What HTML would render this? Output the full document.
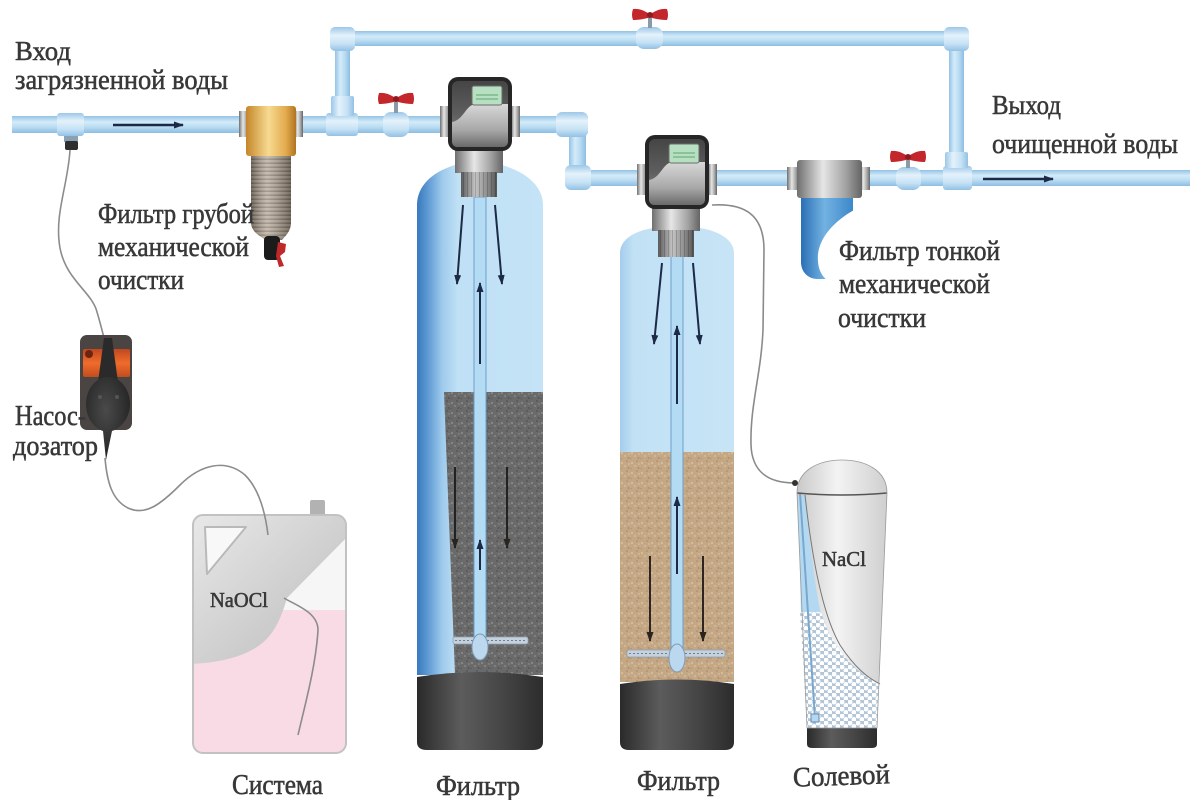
<!DOCTYPE html>
<html><head><meta charset="utf-8">
<style>
html,body{margin:0;padding:0;background:#fff}
svg{display:block}
text{font-family:"Liberation Serif","DejaVu Serif",serif;fill:#383838;stroke:#383838;stroke-width:0.55}
</style></head>
<body>
<svg width="1200" height="800" viewBox="0 0 1200 800" xmlns="http://www.w3.org/2000/svg">
<defs>
 <linearGradient id="pH" x1="0" y1="0" x2="0" y2="1">
  <stop offset="0" stop-color="#93c3e6"/><stop offset="0.35" stop-color="#d4ebf9"/><stop offset="0.65" stop-color="#b9dcf2"/><stop offset="1" stop-color="#8dbde2"/>
 </linearGradient>
 <linearGradient id="pV" x1="0" y1="0" x2="1" y2="0">
  <stop offset="0" stop-color="#93c3e6"/><stop offset="0.35" stop-color="#d4ebf9"/><stop offset="0.65" stop-color="#b9dcf2"/><stop offset="1" stop-color="#8dbde2"/>
 </linearGradient>
 <linearGradient id="fH" x1="0" y1="0" x2="0" y2="1">
  <stop offset="0" stop-color="#9cc7e8"/><stop offset="0.35" stop-color="#e4f2fb"/><stop offset="0.7" stop-color="#c6e2f5"/><stop offset="1" stop-color="#93c1e4"/>
 </linearGradient>
 <linearGradient id="fV" x1="0" y1="0" x2="1" y2="0">
  <stop offset="0" stop-color="#9cc7e8"/><stop offset="0.35" stop-color="#e4f2fb"/><stop offset="0.7" stop-color="#c6e2f5"/><stop offset="1" stop-color="#93c1e4"/>
 </linearGradient>
 <linearGradient id="silver" x1="0" y1="0" x2="1" y2="0">
  <stop offset="0" stop-color="#6f6f6f"/><stop offset="0.4" stop-color="#e6e6e6"/><stop offset="0.75" stop-color="#a2a2a2"/><stop offset="1" stop-color="#646464"/>
 </linearGradient>
 <linearGradient id="silverD" x1="0" y1="0" x2="1" y2="0">
  <stop offset="0" stop-color="#5a5a5a"/><stop offset="0.4" stop-color="#c4c4c4"/><stop offset="0.75" stop-color="#8a8a8a"/><stop offset="1" stop-color="#555"/>
 </linearGradient>
 <linearGradient id="gold" x1="0" y1="0" x2="1" y2="0">
  <stop offset="0" stop-color="#c48628"/><stop offset="0.45" stop-color="#f7da92"/><stop offset="0.8" stop-color="#e2aa4c"/><stop offset="1" stop-color="#b07420"/>
 </linearGradient>
 <linearGradient id="headG" x1="0" y1="0" x2="0" y2="1">
  <stop offset="0" stop-color="#454545"/><stop offset="0.5" stop-color="#5e5e5e"/><stop offset="1" stop-color="#8a8a8a"/>
 </linearGradient>
 <linearGradient id="swoosh" x1="0" y1="0" x2="0" y2="1">
  <stop offset="0" stop-color="#d8d8d8"/><stop offset="0.6" stop-color="#a8a8a8"/><stop offset="1" stop-color="#6a6a6a"/>
 </linearGradient>
 <linearGradient id="tank1" x1="417" y1="0" x2="543" y2="0" gradientUnits="userSpaceOnUse">
  <stop offset="0" stop-color="#3878bd"/><stop offset="0.08" stop-color="#5b98d2"/><stop offset="0.2" stop-color="#9ecaec"/><stop offset="0.32" stop-color="#bfe0f5"/><stop offset="1" stop-color="#c5e3f6"/>
 </linearGradient>
 <linearGradient id="tank2" x1="620" y1="0" x2="734" y2="0" gradientUnits="userSpaceOnUse">
  <stop offset="0" stop-color="#a4cdec"/><stop offset="0.12" stop-color="#c2e1f5"/><stop offset="1" stop-color="#c7e4f6"/>
 </linearGradient>
 <linearGradient id="base" x1="0" y1="0" x2="1" y2="0">
  <stop offset="0" stop-color="#2a2a2a"/><stop offset="0.35" stop-color="#5c5c5c"/><stop offset="0.7" stop-color="#444"/><stop offset="1" stop-color="#2c2c2c"/>
 </linearGradient>
 <linearGradient id="brine" x1="0" y1="0" x2="1" y2="0">
  <stop offset="0" stop-color="#c9c9c9"/><stop offset="0.45" stop-color="#f3f3f3"/><stop offset="1" stop-color="#cfcfcf"/>
 </linearGradient>
 <linearGradient id="blueF" x1="0" y1="0" x2="1" y2="0">
  <stop offset="0" stop-color="#2a6fb5"/><stop offset="0.45" stop-color="#72b2e2"/><stop offset="1" stop-color="#3c88c9"/>
 </linearGradient>
 <linearGradient id="orange" x1="0" y1="0" x2="0" y2="1">
  <stop offset="0" stop-color="#c0481e"/><stop offset="0.5" stop-color="#f06c2c"/><stop offset="1" stop-color="#c24c1e"/>
 </linearGradient>
 <linearGradient id="canGray" x1="0" y1="0" x2="1" y2="1">
  <stop offset="0" stop-color="#e9e9e9"/><stop offset="0.6" stop-color="#cdcdcd"/><stop offset="1" stop-color="#bdbdbd"/>
 </linearGradient>
 <linearGradient id="cylShade" x1="0" y1="0" x2="1" y2="0">
  <stop offset="0" stop-color="#000" stop-opacity="0.35"/><stop offset="0.4" stop-color="#fff" stop-opacity="0.25"/><stop offset="1" stop-color="#000" stop-opacity="0.35"/>
 </linearGradient>
 <radialGradient id="pumpHead" cx="0.45" cy="0.4" r="0.7">
  <stop offset="0" stop-color="#4a4a4a"/><stop offset="1" stop-color="#1e1e1e"/>
 </radialGradient>
 <pattern id="m1" width="10" height="10" patternUnits="userSpaceOnUse">
  <rect width="10" height="10" fill="#6a6a6a"/>
  <circle cx="2" cy="3" r="1" fill="#8d8d8d"/><circle cx="7" cy="1" r="0.8" fill="#4c4c4c"/>
  <circle cx="5" cy="6" r="1" fill="#868686"/><circle cx="8.5" cy="8" r="0.9" fill="#505050"/>
  <circle cx="1" cy="8.5" r="0.8" fill="#5a5a5a"/><circle cx="9" cy="4" r="0.7" fill="#909090"/>
 </pattern>
 <pattern id="m2" width="10" height="10" patternUnits="userSpaceOnUse">
  <rect width="10" height="10" fill="#c4a785"/>
  <circle cx="2" cy="3" r="1" fill="#dac2a2"/><circle cx="7" cy="1" r="0.8" fill="#a9896a"/>
  <circle cx="5" cy="6" r="1" fill="#d4bb9a"/><circle cx="8.5" cy="8" r="0.9" fill="#a88a6c"/>
  <circle cx="1" cy="8.5" r="0.8" fill="#b39474"/><circle cx="9" cy="4" r="0.7" fill="#ddc7a8"/>
 </pattern>
 <pattern id="pel" width="8" height="7" patternUnits="userSpaceOnUse">
  <rect width="8" height="7" fill="#b3c6d8"/>
  <circle cx="2" cy="2" r="2.5" fill="#fff"/><circle cx="6" cy="5.5" r="2.5" fill="#fff"/>
 </pattern>
 <pattern id="mesh" width="6" height="4" patternUnits="userSpaceOnUse">
  <rect width="6" height="4" fill="#b6a897"/><rect y="2.6" width="6" height="1.1" fill="#786a5c"/>
 </pattern>
 <pattern id="thread" width="4" height="4" patternUnits="userSpaceOnUse">
  <rect width="4" height="4" fill="none"/><rect x="3" width="1" height="4" fill="#000" fill-opacity="0.18"/>
 </pattern>
 <marker id="ah" viewBox="0 0 10 10" refX="9" refY="5" markerWidth="10" markerHeight="10" markerUnits="userSpaceOnUse" orient="auto">
  <path d="M0,1.5 L10,5 L0,8.5 Z" fill="#1c2a48"/>
 </marker>
 <marker id="ahb" viewBox="0 0 10 10" refX="9" refY="5" markerWidth="10" markerHeight="10" markerUnits="userSpaceOnUse" orient="auto">
  <path d="M0,1.5 L10,5 L0,8.5 Z" fill="#2a2420"/>
 </marker>
 <clipPath id="canClip"><rect x="193" y="515" width="153" height="238" rx="10"/></clipPath>
 <g id="redH">
  <path d="M-17,-6 Q-10,-7 -2,-2 L-2,3 Q-10,5 -17,5 Q-19,0 -17,-6 Z" fill="#c3262b"/>
  <path d="M17,-6 Q10,-7 2,-2 L2,3 Q10,5 17,5 Q19,0 17,-6 Z" fill="#c3262b"/>
  <circle cx="0" cy="0" r="3" fill="#8e1a1e"/>
 </g>
</defs>

<rect width="1200" height="800" fill="#fff"/>

<!-- ===== PIPES ===== -->
<rect x="12" y="116" width="576" height="17" fill="url(#pH)"/>
<rect x="569" y="116" width="17" height="70" fill="url(#pV)"/>
<rect x="569" y="170" width="621" height="16" fill="url(#pH)"/>
<rect x="335" y="31" width="15" height="93" fill="url(#pV)"/>
<rect x="335" y="31" width="630" height="15" fill="url(#pH)"/>
<rect x="949" y="31" width="15" height="150" fill="url(#pV)"/>

<!-- fittings -->
<rect x="57" y="113" width="27" height="23" rx="3" fill="url(#fH)"/>
<rect x="64" y="136" width="14" height="6" fill="#8aa0b4"/>
<rect x="65" y="141" width="13" height="9" rx="2" fill="#2e2e2e"/>
<rect x="326" y="113" width="32" height="23" rx="3" fill="url(#fH)"/>
<rect x="331" y="96" width="23" height="20" rx="2" fill="url(#fV)"/>
<rect x="330" y="27" width="25" height="24" rx="5" fill="url(#fH)"/>
<rect x="944" y="27" width="25" height="24" rx="5" fill="url(#fH)"/>
<rect x="943" y="166" width="29" height="24" rx="3" fill="url(#fH)"/>
<rect x="945" y="152" width="23" height="16" rx="2" fill="url(#fV)"/>
<rect x="556" y="112" width="32" height="25" rx="6" fill="url(#fH)"/>
<rect x="565" y="165" width="26" height="25" rx="6" fill="url(#fH)"/>
<!-- valves -->
<rect x="383" y="112" width="26" height="25" rx="8" fill="url(#fH)"/>
<rect x="394" y="101" width="4" height="12" fill="#8a9aa8"/>
<use href="#redH" x="396" y="99"/>
<rect x="636" y="27" width="27" height="22" rx="8" fill="url(#fH)"/>
<rect x="648" y="17" width="4" height="11" fill="#8a9aa8"/>
<use href="#redH" x="650" y="15"/>
<rect x="896" y="167" width="25" height="23" rx="8" fill="url(#fH)"/>
<rect x="906" y="157" width="4" height="11" fill="#8a9aa8"/>
<use href="#redH" x="908" y="157"/>

<!-- flow arrows on pipes -->
<line x1="113" y1="125" x2="183" y2="125" stroke="#1c2a48" stroke-width="2.5" marker-end="url(#ah)"/>
<line x1="983" y1="179" x2="1053" y2="179" stroke="#1c2a48" stroke-width="2.5" marker-end="url(#ah)"/>

<!-- ===== COARSE FILTER ===== -->
<rect x="239" y="111" width="10" height="26" fill="url(#silver)"/>
<rect x="294" y="111" width="9" height="26" fill="url(#silver)"/>
<rect x="246" y="106" width="50" height="50" rx="3" fill="url(#gold)"/>
<path d="M251,156 L291,156 L291,222 C291,232 285,236 282,240 L266,240 C260,236 251,232 251,222 Z" fill="url(#mesh)"/>
<path d="M251,156 L291,156 L291,222 C291,232 285,236 282,240 L266,240 C260,236 251,232 251,222 Z" fill="url(#cylShade)"/>
<rect x="264" y="236" width="16" height="24" rx="4" fill="#1b1b1b"/>
<path d="M278,242 L286,244 L285,252 L280,256 L284,266 L279,267 L276,256 Z" fill="#c0282a"/>

<!-- ===== TANK 1 ===== -->
<path d="M417,675 L417,205 C417,186 432,172 455,165 L502,165 C526,172 543,186 543,205 L543,675 Z" fill="url(#tank1)"/>
<path d="M444,392 L543,392 L543,675 L455,675 Z" fill="url(#m1)"/>
<path d="M417,677 Q480,667 543,677 L543,742 Q543,750 533,750 L427,750 Q417,750 417,742 Z" fill="url(#base)"/>
<rect x="474" y="197" width="12" height="448" fill="#b3dbf4" stroke="#6f9fc8" stroke-width="1"/>
<rect x="453" y="637" width="75" height="7" rx="2" fill="#c5d2de" stroke="#8ea0b2" stroke-width="0.8"/>
<path d="M455,640.5 H526" stroke="#6f7f90" stroke-width="1" stroke-dasharray="2 2"/>
<ellipse cx="480" cy="647" rx="8" ry="13" fill="#bcd8ee" stroke="#7d9cb8" stroke-width="1"/>
<line x1="463" y1="205" x2="457" y2="284" stroke="#1c2a48" stroke-width="2" marker-end="url(#ah)"/>
<line x1="495" y1="205" x2="502" y2="284" stroke="#1c2a48" stroke-width="2" marker-end="url(#ah)"/>
<line x1="480" y1="364" x2="480" y2="283" stroke="#1c2a48" stroke-width="2" marker-end="url(#ah)"/>
<line x1="455" y1="467" x2="455" y2="548" stroke="#222" stroke-width="2" marker-end="url(#ahb)"/>
<line x1="507" y1="467" x2="507" y2="548" stroke="#222" stroke-width="2" marker-end="url(#ahb)"/>
<line x1="480" y1="570" x2="480" y2="540" stroke="#1c2a48" stroke-width="2" marker-end="url(#ah)"/>

<!-- head 1 -->
<g>
 <rect x="440" y="106" width="10" height="31" fill="url(#silver)"/>
 <rect x="511" y="106" width="9" height="31" fill="url(#silver)"/>
 <rect x="455" y="149" width="48" height="24" fill="url(#silver)"/>
 <rect x="461" y="172" width="36" height="25" fill="url(#silverD)"/>
 <rect x="461" y="172" width="36" height="25" fill="url(#thread)"/>
 <rect x="448" y="77" width="64" height="74" rx="10" fill="#262626"/>
 <rect x="452" y="81" width="56" height="66" rx="6" fill="url(#headG)"/>
 <path d="M452,122 C464,120 466,104 476,104 L508,104 L508,141 Q508,147 502,147 L458,147 Q452,147 452,141 Z" fill="url(#swoosh)"/>
 <rect x="472" y="86" width="30" height="19" rx="2" fill="#b7dfc1" stroke="#6c6c6c" stroke-width="1"/>
 <path d="M476,95 H498 M476,99 H498" stroke="#7fb98d" stroke-width="1.5"/>
</g>

<!-- ===== TANK 2 ===== -->
<path d="M620,682 L620,253 C620,240 634,231 653,228 L700,228 C719,231 734,240 734,253 L734,682 Z" fill="url(#tank2)"/>
<rect x="620" y="452" width="114" height="230" fill="url(#m2)"/>
<path d="M620,684 Q677,675 734,684 L734,742 Q734,750 725,750 L629,750 Q620,750 620,742 Z" fill="url(#base)"/>
<rect x="671" y="255" width="12" height="400" fill="#b3dbf4" stroke="#6f9fc8" stroke-width="1"/>
<rect x="627" y="650" width="98" height="7" rx="2" fill="#c5d2de" stroke="#8ea0b2" stroke-width="0.8"/>
<path d="M629,653.5 H723" stroke="#6f7f90" stroke-width="1" stroke-dasharray="2 2"/>
<ellipse cx="677" cy="658" rx="8" ry="14" fill="#bcd8ee" stroke="#7d9cb8" stroke-width="1"/>
<line x1="662" y1="263" x2="654" y2="344" stroke="#1c2a48" stroke-width="2" marker-end="url(#ah)"/>
<line x1="693" y1="263" x2="700" y2="344" stroke="#1c2a48" stroke-width="2" marker-end="url(#ah)"/>
<line x1="677" y1="404" x2="677" y2="326" stroke="#1c2a48" stroke-width="2" marker-end="url(#ah)"/>
<line x1="650" y1="556" x2="650" y2="641" stroke="#2e2420" stroke-width="2" marker-end="url(#ahb)"/>
<line x1="703" y1="556" x2="703" y2="641" stroke="#2e2420" stroke-width="2" marker-end="url(#ahb)"/>
<line x1="677" y1="574" x2="677" y2="497" stroke="#1c2a48" stroke-width="2" marker-end="url(#ah)"/>

<!-- head 2 -->
<g transform="translate(197,58)">
 <rect x="440" y="106" width="10" height="31" fill="url(#silver)"/>
 <rect x="511" y="106" width="9" height="31" fill="url(#silver)"/>
 <rect x="455" y="149" width="48" height="24" fill="url(#silver)"/>
 <rect x="461" y="172" width="36" height="27" fill="url(#silverD)"/>
 <rect x="461" y="172" width="36" height="27" fill="url(#thread)"/>
 <rect x="448" y="77" width="64" height="74" rx="10" fill="#262626"/>
 <rect x="452" y="81" width="56" height="66" rx="6" fill="url(#headG)"/>
 <path d="M452,122 C464,120 466,104 476,104 L508,104 L508,141 Q508,147 502,147 L458,147 Q452,147 452,141 Z" fill="url(#swoosh)"/>
 <rect x="472" y="86" width="30" height="19" rx="2" fill="#b7dfc1" stroke="#6c6c6c" stroke-width="1"/>
 <path d="M476,95 H498 M476,99 H498" stroke="#7fb98d" stroke-width="1.5"/>
</g>

<!-- ===== FINE FILTER ===== -->
<rect x="787" y="167" width="12" height="23" fill="url(#silver)"/>
<rect x="859" y="167" width="11" height="23" fill="url(#silver)"/>
<path d="M801,196 L853,196 L853,262 C853,273 845,279 834,279 L818,279 C807,279 801,271 801,262 Z" fill="url(#blueF)"/>
<path d="M854,210 C836,220 820,236 818,254 C817,268 821,277 830,282 L862,282 L862,210 Z" fill="#fff"/>
<rect x="797" y="160" width="65" height="38" rx="3" fill="url(#silver)"/>

<!-- ===== BRINE TANK ===== -->
<path d="M797,493 C797,470 819,460 842,460 C865,460 887,470 887,493 L877,728 L807,728 Z" fill="url(#brine)"/>
<path d="M798,496 L805,496 C809,540 814,580 821,615 L801,615 Z" fill="#b3d9f2"/>
<path d="M800,612 L821,612 C829,640 848,668 879,684 L877,728 L807,728 Z" fill="url(#pel)"/>
<path d="M805,495 C811,550 821,612 840,645 C855,668 868,678 880,684" fill="none" stroke="#777" stroke-width="1"/>
<line x1="800" y1="493" x2="815" y2="718" stroke="#7aa7cc" stroke-width="2"/>
<rect x="811" y="714" width="8" height="8" fill="#b3d9f2" stroke="#6a8aa8" stroke-width="1"/>
<path d="M797,493 Q842,497 887,493" fill="none" stroke="#555" stroke-width="1.5"/>
<path d="M807,728 L877,728 L877,744 Q877,748 872,748 L812,748 Q807,748 807,744 Z" fill="url(#base)"/>
<path d="M797,493 C797,470 819,460 842,460 C865,460 887,470 887,493 L877,728 L807,728 Z" fill="none" stroke="#9a9a9a" stroke-width="0.8"/>

<!-- brine tube -->
<path d="M712,205 C745,203 764,215 764,250 L763,330 C761,375 750,405 751,445 C752,472 768,483 795,483" fill="none" stroke="#8a8a8a" stroke-width="1.6"/>
<circle cx="795" cy="483" r="3" fill="#333"/>

<!-- ===== CANISTER ===== -->
<rect x="310" y="500" width="15" height="18" rx="2" fill="#b2b2b2"/>
<rect x="193" y="515" width="153" height="238" rx="10" fill="#f6f6f6"/>
<g clip-path="url(#canClip)">
 <rect x="193" y="610" width="153" height="145" fill="#f9dbe6"/>
 <path d="M190,512 L350,512 L350,534 L287,598 C280,622 272,640 250,651 C232,660 212,663 190,664 Z" fill="url(#canGray)"/>
 <path d="M205,527 L246,527 L207,574 Z" fill="#f8f8f8" stroke="#b9b9b9" stroke-width="2" stroke-linejoin="round"/>
</g>
<rect x="193" y="515" width="153" height="238" rx="10" fill="none" stroke="#c2c2c2" stroke-width="2"/>

<!-- ===== DOSING PUMP ===== -->
<path d="M70,150 C68,185 54,215 60,248 C66,280 92,292 97,312 C100,322 102,330 104,338" fill="none" stroke="#8c8c8c" stroke-width="1.6"/>
<path d="M105,458 C107,482 112,500 128,508 C145,516 160,505 180,485 C200,465 225,458 245,475 C258,488 265,510 268,535" fill="none" stroke="#8c8c8c" stroke-width="1.6"/>
<path d="M284,598 C295,605 318,612 318,630 C316,665 305,705 298,735" fill="none" stroke="#8c8c8c" stroke-width="1.6"/>
<rect x="80" y="335" width="52" height="95" rx="7" fill="#4a4543"/>
<rect x="83" y="349" width="21" height="28" rx="2" fill="url(#orange)"/>
<rect x="111" y="349" width="19" height="28" rx="2" fill="url(#orange)"/>
<circle cx="89" cy="354" r="4" fill="#6a2410"/>
<path d="M104,338 L112,338 L118,382 L98,382 Z" fill="#2a2a2a"/>
<path d="M108,377 C121,377 130,390 130,404 C130,418 121,428 112,431 L106,460 L103,431 C94,428 86,418 86,404 C86,390 95,377 108,377 Z" fill="url(#pumpHead)"/>
<circle cx="100" cy="397" r="2" fill="#555"/>
<circle cx="117" cy="397" r="2" fill="#555"/>

<!-- ===== TEXT ===== -->
<text x="15" y="60" font-size="27" textLength="56" lengthAdjust="spacingAndGlyphs">Вход</text>
<text x="15" y="89" font-size="29" textLength="213" lengthAdjust="spacingAndGlyphs">загрязненной воды</text>
<text x="98" y="223" font-size="29" textLength="156" lengthAdjust="spacingAndGlyphs">Фильтр грубой</text>
<text x="98" y="256" font-size="29" textLength="151" lengthAdjust="spacingAndGlyphs">механической</text>
<text x="98" y="289" font-size="29" textLength="86" lengthAdjust="spacingAndGlyphs">очистки</text>
<text x="992" y="114" font-size="27" textLength="69" lengthAdjust="spacingAndGlyphs">Выход</text>
<text x="992" y="153" font-size="29" textLength="186" lengthAdjust="spacingAndGlyphs">очищенной воды</text>
<text x="839" y="260" font-size="29" textLength="161" lengthAdjust="spacingAndGlyphs">Фильтр тонкой</text>
<text x="839" y="293" font-size="29" textLength="151" lengthAdjust="spacingAndGlyphs">механической</text>
<text x="838" y="327" font-size="29" textLength="88" lengthAdjust="spacingAndGlyphs">очистки</text>
<text x="15" y="425" font-size="28" textLength="71" lengthAdjust="spacingAndGlyphs">Насос-</text>
<text x="13" y="455" font-size="29" textLength="85" lengthAdjust="spacingAndGlyphs">дозатор</text>
<text x="210" y="607" font-size="21" textLength="58" lengthAdjust="spacingAndGlyphs">NaOCl</text>
<text x="822" y="566" font-size="21" textLength="44" lengthAdjust="spacingAndGlyphs">NaCl</text>
<text x="232" y="794" font-size="28" textLength="91" lengthAdjust="spacingAndGlyphs">Система</text>
<text x="436" y="795" font-size="28" textLength="84" lengthAdjust="spacingAndGlyphs">Фильтр</text>
<text x="637" y="790" font-size="28" textLength="83" lengthAdjust="spacingAndGlyphs">Фильтр</text>
<text x="793" y="785" font-size="28" textLength="97" lengthAdjust="spacingAndGlyphs" transform="rotate(-2 841 778)">Солевой</text>
</svg>
</body></html>
